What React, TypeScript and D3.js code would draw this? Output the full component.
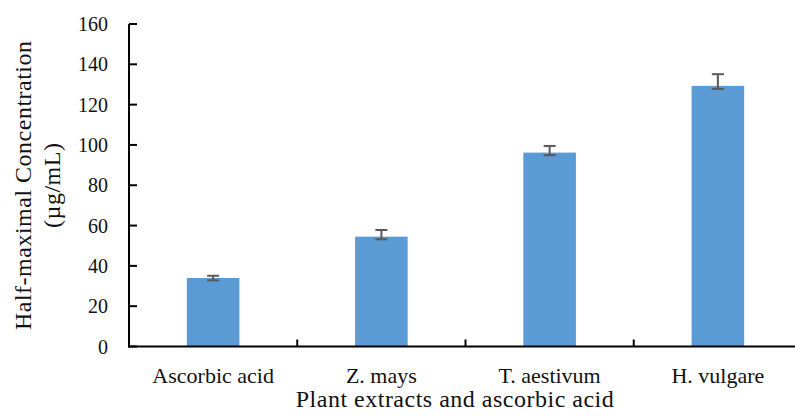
import React from "react";
import * as d3 from "d3";

// Values
const categories = ["Ascorbic acid", "Z. mays", "T. aestivum", "H. vulgare"];
const values = [34.0, 54.5, 96.2, 129.3];
const errPlus = [1.1, 3.3, 3.3, 5.8];
const errMinus = [1.2, 1.3, 1.3, 1.5];
const yTicks = [0, 20, 40, 60, 80, 100, 120, 140, 160];

const W = 795;
const H = 416;
const FONT = "'Liberation Serif', 'Times New Roman', serif";
const INK = "#111";

export default function App() {
  const x = d3.scaleBand<string>().domain(categories).range([129, 802]).paddingInner(0).paddingOuter(0);
  const y = d3.scaleLinear().domain([0, 160]).range([346.5, 24]);
  const barW = x.bandwidth() / 3.2;

  return (
    <svg width={W} height={H} style={{ position: "absolute", left: 0, top: 0 }}>
      <rect width={W} height={H} fill="#fff" />

      {/* bars */}
      {categories.map((c, i) => {
        const cx = x(c)! + x.bandwidth() / 2;
        return (
          <rect key={c} x={cx - barW / 2} y={y(values[i])} width={barW}
            height={y(0) - y(values[i])} fill="#5B9BD5" />
        );
      })}

      {/* error bars */}
      {categories.map((c, i) => {
        const cx = x(c)! + x.bandwidth() / 2;
        const hi = y(values[i] + errPlus[i]);
        const lo = y(values[i] - errMinus[i]);
        return (
          <g key={c} stroke="#595959" strokeWidth={2}>
            <line x1={cx} x2={cx} y1={hi} y2={lo} />
            <line x1={cx - 6} x2={cx + 6} y1={hi} y2={hi} />
            <line x1={cx - 6} x2={cx + 6} y1={lo} y2={lo} />
          </g>
        );
      })}

      {/* y axis */}
      <line x1={129} x2={129} y1={y(160)} y2={y(0) + 1} stroke="#000" strokeWidth={2} />
      {yTicks.map((t) => (
        <g key={t}>
          <line x1={129} x2={137} y1={y(t)} y2={y(t)} stroke="#000" strokeWidth={2} />
          <text x={108} y={y(t)} dy="0.35em" textAnchor="end" fontFamily={FONT} fontSize={20}
            fill={INK}>{t}</text>
        </g>
      ))}

      {/* x axis */}
      <line x1={128} x2={802} y1={y(0)} y2={y(0)} stroke="#000" strokeWidth={2} />
      {categories.slice(1).map((c) => (
        <line key={c} x1={x(c)!} x2={x(c)!} y1={y(0)} y2={y(0) - 7} stroke="#000" strokeWidth={2} />
      ))}
      {categories.map((c) => (
        <text key={c} x={x(c)! + x.bandwidth() / 2} y={383} textAnchor="middle" fontFamily={FONT}
          fontSize={22} fill={INK}>{c}</text>
      ))}

      {/* axis titles */}
      <text x={455} y={407} textAnchor="middle" fontFamily={FONT} fontSize={24} letterSpacing={0.5}
        fill={INK}>Plant extracts and ascorbic acid</text>
      <g transform={`translate(0, ${(y(0) + y(160)) / 2}) rotate(-90)`}>
        <text x={0} y={31} textAnchor="middle" fontFamily={FONT} fontSize={24} letterSpacing={0.5}
          fill={INK}>Half-maximal Concentration</text>
        <text x={0} y={60} textAnchor="middle" fontFamily={FONT} fontSize={24} letterSpacing={0.5}
          fill={INK}>(µg/mL)</text>
      </g>
    </svg>
  );
}
